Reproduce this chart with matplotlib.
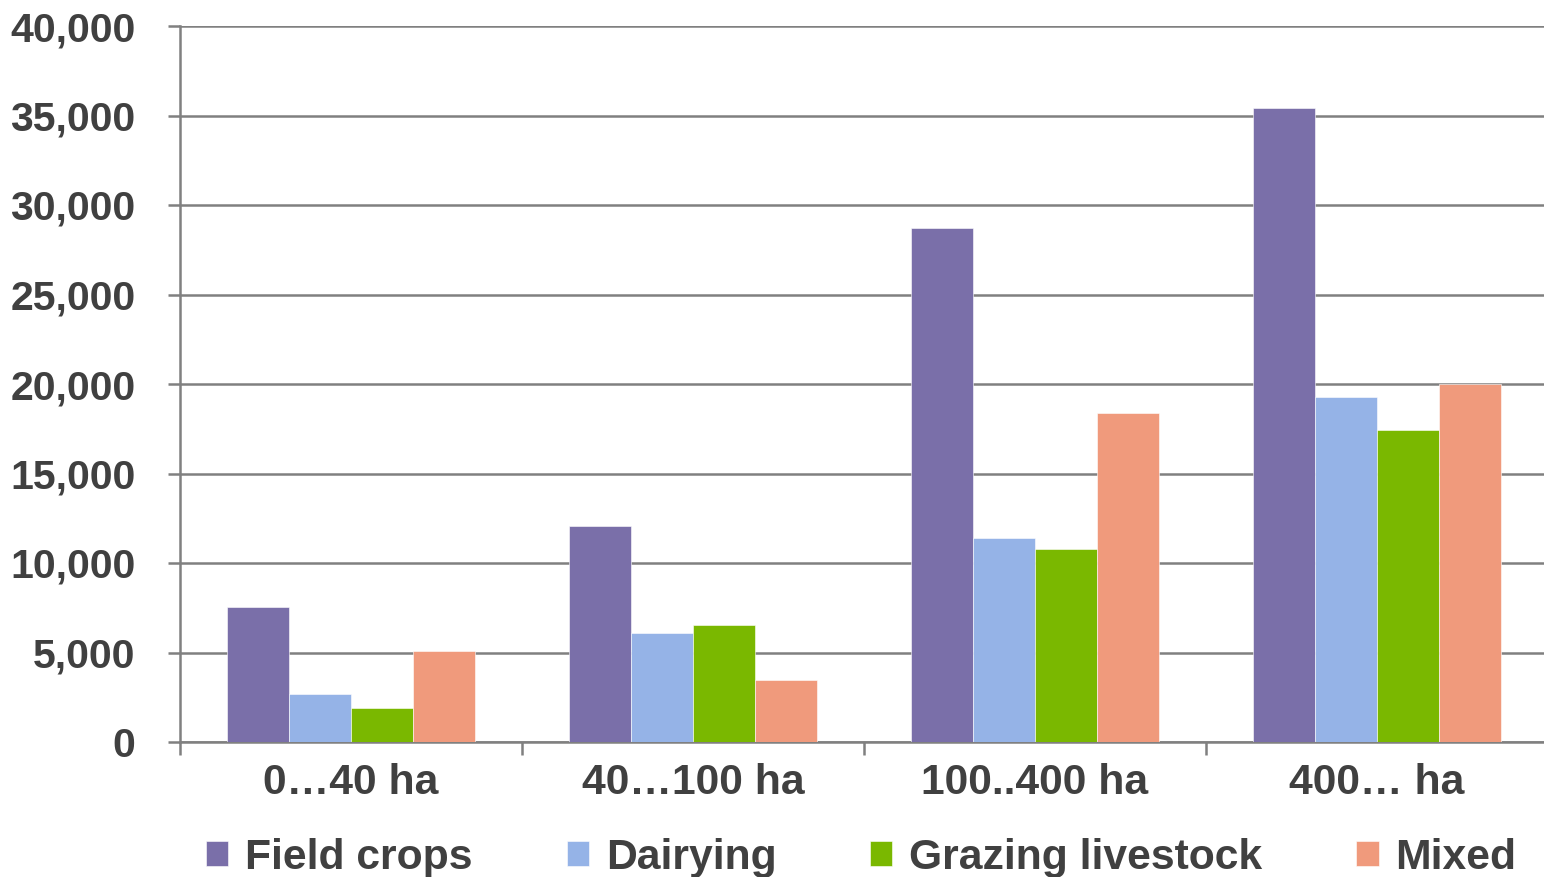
import numpy as np
import matplotlib
matplotlib.use("Agg")
import matplotlib.pyplot as plt
from matplotlib.ticker import StrMethodFormatter, FixedLocator

plt.rcParams['font.family'] = ['Liberation Sans', 'DejaVu Sans']
plt.rcParams['font.weight'] = 'bold'

# farm size classes and values per farm type
categories = ["0…40 ha", "40…100 ha", "100..400 ha", "400… ha"]
field_crops = [7550, 12070, 28720, 35420]
dairying = [2680, 6090, 11400, 19280]
grazing = [1900, 6540, 10780, 17430]
mixed = [5080, 3460, 18380, 20000]

series = [field_crops, dairying, grazing, mixed]
names = ["Field crops", "Dairying", "Grazing livestock", "Mixed"]
colors = ["#7A6FA9", "#95B3E7", "#7AB800", "#F09A7C"]

text_col = "#404040"
line_col = "#808080"
fs = 30.7

fig = plt.figure(figsize=(15.44, 8.77), dpi=100)
ax = fig.add_axes([180/1544, 1 - 742/877, 1368/1544, (742 - 26)/877])

x = np.arange(len(categories))
w = 0.182
for i, (vals, name, c) in enumerate(zip(series, names, colors)):
    ax.bar(x + (i - 1.5)*w, vals, w, color=c, label=name, zorder=3,
           edgecolor="white", linewidth=0.4)

ax.set_xlim(-0.5, 3.5)
ax.set_ylim(0, 40000)
ax.set_yticks(np.arange(0, 40001, 5000))
ax.yaxis.set_major_formatter(StrMethodFormatter("{x:,.0f}"))
ax.yaxis.grid(True, color=line_col, linewidth=1.8, zorder=0)
ax.set_axisbelow(True)

# category boundaries as major ticks, labels on minor ticks at centers
ax.xaxis.set_major_locator(FixedLocator([-0.5, 0.5, 1.5, 2.5, 3.5]))
ax.xaxis.set_major_formatter(plt.NullFormatter())
ax.xaxis.set_minor_locator(FixedLocator(x))
ax.set_xticklabels(categories, minor=True)
ax.tick_params(axis='x', which='major', length=9, width=1.8, color=line_col, direction='out')
ax.tick_params(axis='x', which='minor', length=0, pad=15, labelsize=fs, labelcolor=text_col)
ax.tick_params(axis='y', length=9, width=1.8, color=line_col, direction='out',
               pad=23, labelsize=29.5, labelcolor=text_col)

for s in ['top', 'right']:
    ax.spines[s].set_visible(False)
for s in ['left', 'bottom']:
    ax.spines[s].set_color(line_col)
    ax.spines[s].set_linewidth(1.8)

fig.legend(loc='center left', bbox_to_anchor=(206/1544, 1 - 858/877), ncol=4,
           frameon=False, fontsize=fs, labelcolor=text_col,
           handlelength=0.52, handleheight=0.52, handletextpad=0.4,
           columnspacing=2.2, borderaxespad=0, borderpad=0)

fig.savefig("out.png", dpi=100)
